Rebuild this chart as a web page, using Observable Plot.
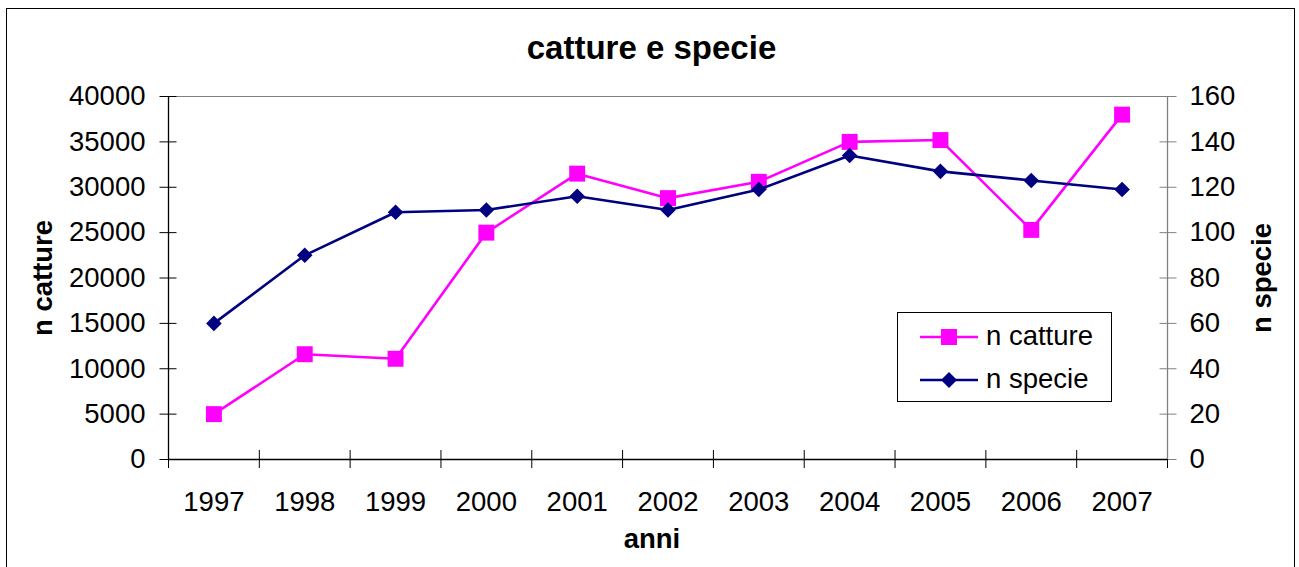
<!DOCTYPE html>
<html>
<head>
<meta charset="utf-8">
<script src="https://cdn.jsdelivr.net/npm/d3@7"></script>
<script src="https://cdn.jsdelivr.net/npm/@observablehq/plot@0.6"></script>
<style>
  html, body { margin: 0; padding: 0; background: #fff; overflow: hidden; }
  #wrap { position: relative; width: 1299px; height: 567px; overflow: hidden; font-family: "Liberation Sans", Arial, sans-serif; }
  #border { position: absolute; left: 6px; top: 8px; width: 1289px; height: 600px; border: 1.5px solid #000; box-sizing: border-box; pointer-events: none; }
  #legend { position: absolute; left: 897px; top: 312px; width: 215px; height: 90px; border: 1.2px solid #000; box-sizing: border-box; background: #fff; }
  .entry { position: absolute; left: 0; height: 30px; width: 100%; }
  .entry svg { position: absolute; left: 22px; top: 0; }
  .entry span { position: absolute; left: 88px; top: -1px; font-size: 27.5px; line-height: 30px; color: #000; }
</style>
</head>
<body>
<div id="wrap"><div id="border"></div></div>
<script>
// ---- data ----
const years = [1997, 1998, 1999, 2000, 2001, 2002, 2003, 2004, 2005, 2006, 2007];
const catture = [5000, 11600, 11100, 25000, 31500, 28800, 30600, 35000, 35200, 25300, 38000];
const specie = [60, 90, 109, 110, 116, 110, 119, 134, 127, 123, 119];
const cattureTicks = [0, 5000, 10000, 15000, 20000, 25000, 30000, 35000, 40000];
const specieTicks = [0, 20, 40, 60, 80, 100, 120, 140, 160];
const titleText = "catture e specie";
const xLabel = "anni";
const yLeftLabel = "n catture";
const yRightLabel = "n specie";
const seriesNames = ["n catture", "n specie"];
const colors = ["#FF00FF", "#000080"];

// secondary axis factor (right axis 0..160 mapped onto left 0..40000)
const K = 40000 / 160;
const rows = years.map((y, i) => ({year: y, catture: catture[i], specie: specie[i] * K}));
const bounds = [...years.map(y => y - 0.5), years[years.length - 1] + 0.5];

const chart = Plot.plot({
  width: 1299,
  height: 567,
  marginLeft: 168,
  marginRight: 132,
  marginTop: 96,
  marginBottom: 108,
  style: {fontFamily: "'Liberation Sans', Arial, sans-serif", fontSize: "27.5px", background: "transparent", color: "#000", overflow: "visible"},
  x: {type: "linear", domain: [bounds[0], bounds[bounds.length - 1]]},
  y: {domain: [0, 40000]},
  marks: [
    Plot.frame({stroke: "#808080", strokeWidth: 1}),
    // left axis ticks (crossing) and labels
    Plot.axisY(cattureTicks, {anchor: "left", tickSize: 17, dx: 8.5, tickFormat: () => "", label: null, stroke: "#000"}),
    Plot.axisY(cattureTicks, {anchor: "left", tickSize: 0, tickPadding: 23, tickFormat: d => String(d), label: null, fontSize: 27.5}),
    // right axis
    Plot.axisY(specieTicks.map(d => d * K), {anchor: "right", tickSize: 17, dx: -8.5, tickFormat: () => "", label: null, stroke: "#808080"}),
    Plot.axisY(specieTicks.map(d => d * K), {anchor: "right", tickSize: 0, tickPadding: 22, tickFormat: d => String(d / K), label: null, fontSize: 27.5}),
    // x axis ticks at category boundaries and year labels
    Plot.axisX(bounds, {anchor: "bottom", tickSize: 18, dy: -9, tickFormat: () => "", label: null, stroke: "#000"}),
    Plot.axisX(years, {anchor: "bottom", tickSize: 0, tickPadding: 32, tickFormat: d => String(d), label: null, fontSize: 27.5}),
    Plot.ruleX([bounds[bounds.length - 1]], {stroke: "#808080", strokeWidth: 1.3}),
    Plot.ruleX([bounds[0]], {stroke: "#000", strokeWidth: 1.3}),
    Plot.ruleY([0], {stroke: "#000", strokeWidth: 1.3}),
    // series
    Plot.line(rows, {x: "year", y: "catture", stroke: colors[0], strokeWidth: 2.6}),
    Plot.dot(rows, {x: "year", y: "catture", symbol: "square", r: 9, fill: colors[0], stroke: "none"}),
    Plot.line(rows, {x: "year", y: "specie", stroke: colors[1], strokeWidth: 2.6}),
    Plot.dot(rows, {x: "year", y: "specie", symbol: "diamond2", r: 7, fill: colors[1], stroke: "none"}),
    // titles
    Plot.text([titleText], {frameAnchor: "top", dx: -16.5, dy: -38, lineAnchor: "bottom", fontSize: 33, fontWeight: "bold"}),
    Plot.text([xLabel], {frameAnchor: "bottom", dx: -16, dy: 88, lineAnchor: "bottom", fontSize: 27.5, fontWeight: "bold"}),
    Plot.text([yLeftLabel], {frameAnchor: "left", dx: -125, rotate: -90, lineAnchor: "middle", textAnchor: "middle", fontSize: 27.5, fontWeight: "bold"}),
    Plot.text([yRightLabel], {frameAnchor: "right", dx: 95, rotate: -90, lineAnchor: "middle", textAnchor: "middle", fontSize: 27.5, fontWeight: "bold"})
  ]
});
chart.style.position = "absolute";
chart.style.left = "0";
chart.style.top = "0";
const wrap = document.getElementById("wrap");
wrap.insertBefore(chart, wrap.firstChild);

// legend
const legend = document.createElement("div");
legend.id = "legend";
const symbols = ["square", "diamond"];
seriesNames.forEach((name, i) => {
  const e = document.createElement("div");
  e.className = "entry";
  e.style.top = (i === 0 ? 9 : 52) + "px";
  const marker = symbols[i] === "square"
    ? `<rect x="21" y="7" width="16" height="16" fill="${colors[i]}"/>`
    : `<path d="M29,7 L37,15 L29,23 L21,15 Z" fill="${colors[i]}"/>`;
  e.innerHTML = `<svg width="58" height="30"><line x1="0" y1="15" x2="58" y2="15" stroke="${colors[i]}" stroke-width="2.6"/>${marker}</svg><span>${name}</span>`;
  legend.appendChild(e);
});
wrap.appendChild(legend);
</script>
</body>
</html>
